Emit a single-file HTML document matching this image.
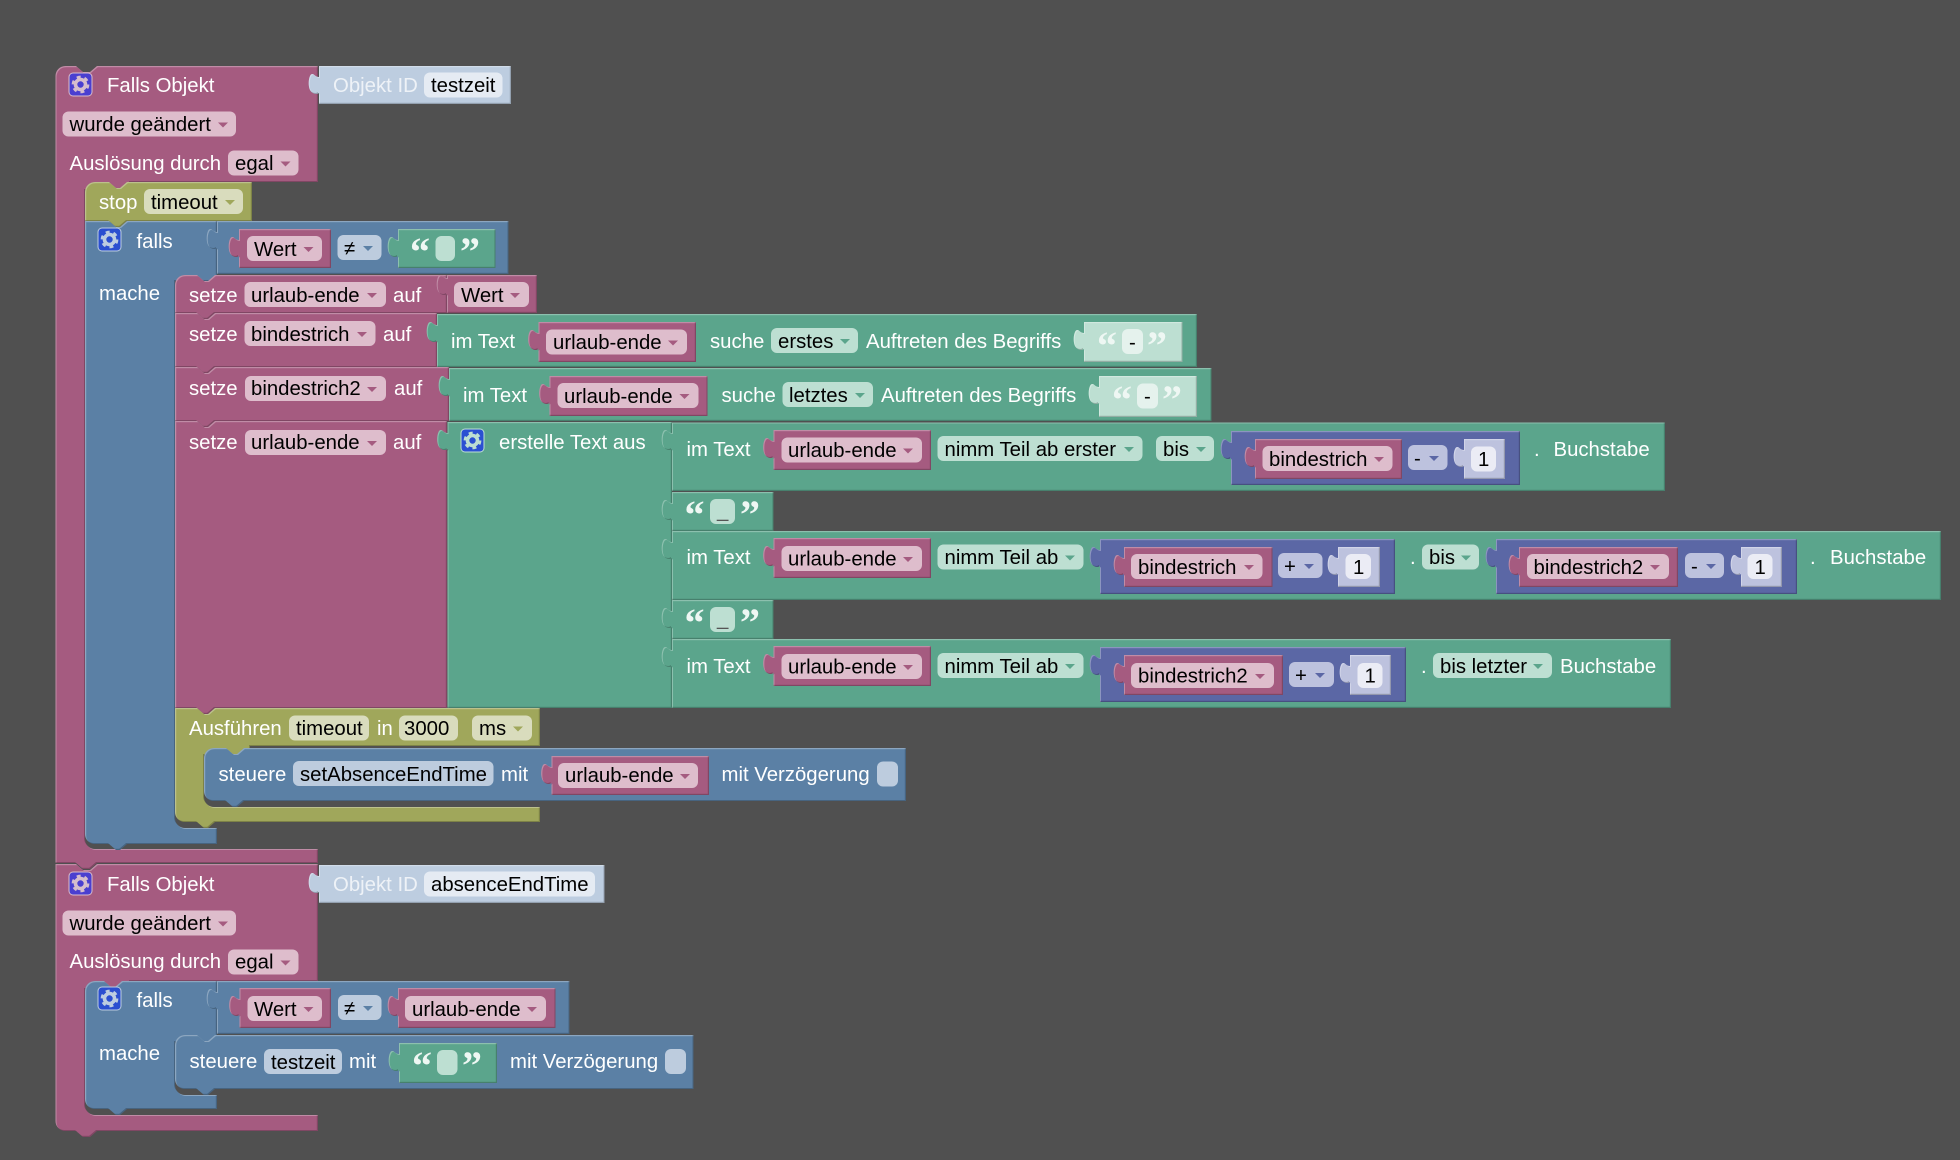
<!DOCTYPE html>
<html><head><meta charset="utf-8"><style>
html,body{margin:0;padding:0;background:#505050;width:1960px;height:1160px;overflow:hidden}
svg{display:block}
text{font-family:"Liberation Sans",sans-serif;font-size:20.35px}
.w{fill:#fff}.k{fill:#000}.pw{fill:#eef2f7}
.q{font-family:"Liberation Serif",serif;font-weight:bold;font-size:40px;fill:#eef7f3}
.m,.g,.b,.o,.i,.p,.pg,.pi{filter:url(#bev)}
.m{fill:#a55b80}.g{fill:#5ba58c}.b{fill:#5b80a5}.o{fill:#a0a75b}.i{fill:#5b67a5}.p{fill:#bdcde0}.pg{fill:#bddfd2}.pi{fill:#bdc2de}
.fm{fill:#debdcc}.fg{fill:#bddfd2}.fb{fill:#bdccde}.fo{fill:#d9dcbd}.fi{fill:#bdc2de}.fp{fill:#e5ebf3}.fn{fill:#ebecf5}.fl{fill:#e5f2ed}
.am{fill:#a55b80}.ag{fill:#5ba58c}.ab{fill:#5b80a5}.ao{fill:#a0a75b}.ai{fill:#5b67a5}
</style></head><body>
<svg xmlns="http://www.w3.org/2000/svg" width="1960" height="1160" viewBox="0 0 1960 1160">
<defs>
<filter id="bev" x="-5%" y="-10%" width="110%" height="120%" color-interpolation-filters="sRGB">
<feOffset in="SourceAlpha" dx="1.2" dy="1.2" result="o1"/>
<feComposite in="SourceAlpha" in2="o1" operator="out" result="e1"/>
<feFlood flood-color="#fff" flood-opacity=".3"/><feComposite in2="e1" operator="in" result="lt"/>
<feOffset in="SourceAlpha" dx="-1.2" dy="-1.2" result="o2"/>
<feComposite in="SourceAlpha" in2="o2" operator="out" result="e2"/>
<feFlood flood-color="#000" flood-opacity=".22"/><feComposite in2="e2" operator="in" result="dk"/>
<feMerge><feMergeNode in="SourceGraphic"/><feMergeNode in="lt"/><feMergeNode in="dk"/></feMerge>
</filter>
<g id="gear"><circle cx="11.5" cy="11.5" r="5" fill="none" stroke-width="3.6"/><circle cx="11.5" cy="11.5" r="7.6" fill="none" stroke-width="2.6" stroke-dasharray="3.97 3.97"/></g>
</defs>

<!-- HAT A -->
<path class="m" d="M55.5,76a10,10 0 0 1 10,-10H76l7,6h7l7,-6H318V182H130V190H85V839a10,10 0 0 0 10,10H318V863H97l-7,6h-7l-7,-6H55.5Z"/>
<path class="p" d="M319,66H511V104H319V93c-2,2 -7,1 -9,-3c-2,-4 -1.5,-11 0,-14c1,-2.5 3,-2.5 5,-.5c1,1 2.5,1.5 4,1.5Z"/>
<rect x="69" y="73" width="23" height="23" rx="4" fill="#4a3fd0" stroke="#d8bccb" stroke-width="1"/><use href="#gear" x="69" y="73" stroke="#d5bdcd"/>
<text class="w" x="107" y="92">Falls Objekt</text>
<text class="pw" x="333" y="92">Objekt ID</text>
<rect class="fp" x="424" y="72.5" width="78.5" height="25" rx="6"/><text class="k" x="431" y="92">testzeit</text>
<rect class="fm" x="62.5" y="111.5" width="173.5" height="25" rx="6"/><text class="k" x="69.5" y="131">wurde geändert</text><path class="am" d="M218,122.5h10l-5,5z"/>
<text class="w" x="69.5" y="170">Auslösung durch</text>
<rect class="fm" x="228" y="150.5" width="70.5" height="25" rx="6"/><text class="k" x="235" y="170">egal</text><path class="am" d="M280.5,161.5h10l-5,5z"/>

<!-- stop -->
<path class="o" d="M85,192a10,10 0 0 1 10,-10H109l7,6h4l7,-6H252V221H127l-7,6h-4l-7,-6H85Z"/>
<text class="w" x="99" y="209">stop</text>
<rect class="fo" x="144" y="189" width="99" height="25" rx="6"/><text class="k" x="151" y="209">timeout</text><path class="ao" d="M225,200h10l-5,5z"/>

<!-- falls C -->
<path class="b" d="M85,221H109l7,6h4l7,-6H217V281H175V818a10,10 0 0 0 10,10H217V844H127l-7,6h-4l-7,-6H95a10,10 0 0 1 -10,-10Z"/>
<rect x="98" y="228" width="23" height="23" rx="4" fill="#2b4fd0" stroke="#bdcde0" stroke-width="1"/><use href="#gear" x="98" y="228" stroke="#bdcde0"/>
<text class="w" x="136.5" y="248">falls</text>
<text class="w" x="99" y="300">mache</text>
<path class="b" d="M217,221H508.5V274H217V248c-2,2 -7,1 -9,-3c-2,-4 -1.5,-11 0,-14c1,-2.5 3,-2.5 5,-.5c1,1 2.5,1.5 4,1.5Z"/>
<path class="m" d="M239,229H331V268H239V256c-2,2 -7,1 -9,-3c-2,-4 -1.5,-11 0,-14c1,-2.5 3,-2.5 5,-.5c1,1 2.5,1.5 4,1.5Z"/>
<rect class="fm" x="247" y="236" width="75" height="25" rx="6"/><text class="k" x="254" y="256">Wert</text><path class="am" d="M303.5,247h10l-5,5z"/>
<rect class="fb" x="337.5" y="235" width="44" height="25" rx="6"/><text class="k" x="344" y="255">≠</text><path class="ab" d="M363,246h10l-5,5z"/>
<path class="g" d="M398,229H495.5V268H398V256c-2,2 -7,1 -9,-3c-2,-4 -1.5,-11 0,-14c1,-2.5 3,-2.5 5,-.5c1,1 2.5,1.5 4,1.5Z"/>
<rect class="fg" x="435.5" y="236" width="19.5" height="25" rx="6"/>
<text class="q" x="410" y="265">“</text><text class="q" x="460" y="265">”</text>

<!-- setze 1 -->
<path class="m" d="M175,285a10,10 0 0 1 10,-10H197l7,6h4l7,-6H447V313H215l-7,6h-4l-7,-6H175Z"/>
<text class="w" x="189" y="302">setze</text>
<rect class="fm" x="244.5" y="282" width="141.5" height="25" rx="6"/><text class="k" x="251" y="302">urlaub-ende</text><path class="am" d="M367,293h10l-5,5z"/>
<text class="w" x="393" y="302">auf</text>
<path class="m" d="M447,275H537V313H447V294c-2,2 -7,1 -9,-3c-2,-4 -1.5,-11 0,-14c1,-2.5 3,-2.5 5,-.5c1,1 2.5,1.5 4,1.5Z"/>
<rect class="fm" x="454" y="282" width="75" height="25" rx="6"/><text class="k" x="461" y="302">Wert</text><path class="am" d="M510,293h10l-5,5z"/>

<!-- setze 2 -->
<path class="m" d="M175,313H197l7,6h4l7,-6H437V367H215l-7,6h-4l-7,-6H175Z"/>
<text class="w" x="189" y="341">setze</text>
<rect class="fm" x="244.5" y="321" width="131" height="25" rx="6"/><text class="k" x="251" y="341">bindestrich</text><path class="am" d="M357,332h10l-5,5z"/>
<text class="w" x="383" y="341">auf</text>
<path class="g" d="M437,314H1197V367H437V341c-2,2 -7,1 -9,-3c-2,-4 -1.5,-11 0,-14c1,-2.5 3,-2.5 5,-.5c1,1 2.5,1.5 4,1.5Z"/>
<text class="w" x="451" y="348">im Text</text>
<path class="m" d="M538.5,322H696V362H538.5V349c-2,2 -7,1 -9,-3c-2,-4 -1.5,-11 0,-14c1,-2.5 3,-2.5 5,-.5c1,1 2.5,1.5 4,1.5Z"/>
<rect class="fm" x="546" y="329.5" width="141" height="25" rx="6"/><text class="k" x="553" y="349">urlaub-ende</text><path class="am" d="M668,340.5h10l-5,5z"/>
<text class="w" x="710" y="348">suche</text>
<rect class="fg" x="771" y="328" width="87" height="25" rx="6"/><text class="k" x="778" y="348">erstes</text><path class="ag" d="M840,339h10l-5,5z"/>
<text class="w" x="866" y="348">Auftreten des Begriffs</text>
<path class="pg" d="M1084,322H1182.5V362H1084V349c-2,2 -7,1 -9,-3c-2,-4 -1.5,-11 0,-14c1,-2.5 3,-2.5 5,-.5c1,1 2.5,1.5 4,1.5Z"/>
<rect class="fl" x="1122" y="329" width="21" height="25" rx="6"/><text class="k" x="1129" y="349">-</text>
<text class="q" x="1097" y="359">“</text><text class="q" x="1147" y="359">”</text>

<!-- setze 3 -->
<path class="m" d="M175,367H197l7,6h4l7,-6H449V421H215l-7,6h-4l-7,-6H175Z"/>
<text class="w" x="189" y="395">setze</text>
<rect class="fm" x="245" y="376" width="141" height="25" rx="6"/><text class="k" x="251" y="395">bindestrich2</text><path class="am" d="M367,387h10l-5,5z"/>
<text class="w" x="394" y="395">auf</text>
<path class="g" d="M449,368H1211.5V421H449V395c-2,2 -7,1 -9,-3c-2,-4 -1.5,-11 0,-14c1,-2.5 3,-2.5 5,-.5c1,1 2.5,1.5 4,1.5Z"/>
<text class="w" x="463" y="402">im Text</text>
<path class="m" d="M549.5,376H707.5V416H549.5V403c-2,2 -7,1 -9,-3c-2,-4 -1.5,-11 0,-14c1,-2.5 3,-2.5 5,-.5c1,1 2.5,1.5 4,1.5Z"/>
<rect class="fm" x="557.5" y="383" width="141" height="25" rx="6"/><text class="k" x="564" y="403">urlaub-ende</text><path class="am" d="M679.5,394h10l-5,5z"/>
<text class="w" x="721.5" y="402">suche</text>
<rect class="fg" x="782.5" y="382" width="90.5" height="25" rx="6"/><text class="k" x="789" y="402">letztes</text><path class="ag" d="M855,393h10l-5,5z"/>
<text class="w" x="881" y="402">Auftreten des Begriffs</text>
<path class="pg" d="M1099,376H1197V417H1099V403c-2,2 -7,1 -9,-3c-2,-4 -1.5,-11 0,-14c1,-2.5 3,-2.5 5,-.5c1,1 2.5,1.5 4,1.5Z"/>
<rect class="fl" x="1137" y="383.5" width="21" height="25" rx="6"/><text class="k" x="1144" y="403">-</text>
<text class="q" x="1112" y="413">“</text><text class="q" x="1162" y="413">”</text>

<!-- setze 4 -->
<path class="m" d="M175,421H197l7,6h4l7,-6H447V708H215l-7,6h-4l-7,-6H175Z"/>
<text class="w" x="189" y="449">setze</text>
<rect class="fm" x="245" y="430" width="141" height="25" rx="6"/><text class="k" x="251" y="449">urlaub-ende</text><path class="am" d="M367,441h10l-5,5z"/>
<text class="w" x="393" y="449">auf</text>
<path class="g" d="M447.5,422H672V708H447.5V449c-2,2 -7,1 -9,-3c-2,-4 -1.5,-11 0,-14c1,-2.5 3,-2.5 5,-.5c1,1 2.5,1.5 4,1.5Z"/>
<rect x="461" y="429" width="23" height="23" rx="4" fill="#2b50d2" stroke="#bddfd2" stroke-width="1"/><use href="#gear" x="461" y="429" stroke="#bddfd2"/>
<text class="w" x="499" y="449">erstelle Text aus</text>

<!-- row a -->
<path class="g" d="M672,422.5H1665V491H672V449c-2,2 -7,1 -9,-3c-2,-4 -1.5,-11 0,-14c1,-2.5 3,-2.5 5,-.5c1,1 2.5,1.5 4,1.5Z"/>
<text class="w" x="686.5" y="456">im Text</text>
<path class="m" d="M773.5,430H931V470H773.5V457c-2,2 -7,1 -9,-3c-2,-4 -1.5,-11 0,-14c1,-2.5 3,-2.5 5,-.5c1,1 2.5,1.5 4,1.5Z"/>
<rect class="fm" x="781.5" y="437.5" width="140.5" height="25" rx="6"/><text class="k" x="788" y="457">urlaub-ende</text><path class="am" d="M903,448.5h10l-5,5z"/>
<rect class="fg" x="937.5" y="436" width="205" height="25" rx="6"/><text class="k" x="944.5" y="456">nimm Teil ab erster</text><path class="ag" d="M1124,447h10l-5,5z"/>
<rect class="fg" x="1156" y="436" width="58" height="25" rx="6"/><text class="k" x="1163" y="456">bis</text><path class="ag" d="M1196,447h10l-5,5z"/>
<path class="i" d="M1231,431H1520V485H1231V458c-2,2 -7,1 -9,-3c-2,-4 -1.5,-11 0,-14c1,-2.5 3,-2.5 5,-.5c1,1 2.5,1.5 4,1.5Z"/>
<path class="m" d="M1255,439H1402V479H1255V466c-2,2 -7,1 -9,-3c-2,-4 -1.5,-11 0,-14c1,-2.5 3,-2.5 5,-.5c1,1 2.5,1.5 4,1.5Z"/>
<rect class="fm" x="1262.5" y="446" width="130" height="25" rx="6"/><text class="k" x="1269" y="466">bindestrich</text><path class="am" d="M1374,457h10l-5,5z"/>
<rect class="fi" x="1408" y="445" width="39.5" height="25" rx="6"/><text class="k" x="1414" y="465">-</text><path class="ai" d="M1429,456h10l-5,5z"/>
<path class="pi" d="M1464,439H1505V479H1464V466c-2,2 -7,1 -9,-3c-2,-4 -1.5,-11 0,-14c1,-2.5 3,-2.5 5,-.5c1,1 2.5,1.5 4,1.5Z"/>
<rect class="fn" x="1471" y="446.5" width="25" height="25" rx="6"/><text class="k" x="1478" y="466">1</text>
<text class="w" x="1534" y="456">.</text>
<text class="w" x="1553.5" y="456">Buchstabe</text>

<!-- row b -->
<path class="g" d="M672,492H773.5V531H672V519c-2,2 -7,1 -9,-3c-2,-4 -1.5,-11 0,-14c1,-2.5 3,-2.5 5,-.5c1,1 2.5,1.5 4,1.5Z"/>
<rect class="fg" x="710" y="499" width="25" height="25" rx="6"/><text class="k" x="717" y="517" style="fill:#555">_</text>
<text class="q" x="684.5" y="528">“</text><text class="q" x="740" y="528">”</text>

<!-- row c -->
<path class="g" d="M672,531H1941V600H672V558c-2,2 -7,1 -9,-3c-2,-4 -1.5,-11 0,-14c1,-2.5 3,-2.5 5,-.5c1,1 2.5,1.5 4,1.5Z"/>
<text class="w" x="686.5" y="564">im Text</text>
<path class="m" d="M773.5,538H931V578H773.5V565c-2,2 -7,1 -9,-3c-2,-4 -1.5,-11 0,-14c1,-2.5 3,-2.5 5,-.5c1,1 2.5,1.5 4,1.5Z"/>
<rect class="fm" x="781.5" y="546" width="140.5" height="25" rx="6"/><text class="k" x="788" y="565.5">urlaub-ende</text><path class="am" d="M903,557h10l-5,5z"/>
<rect class="fg" x="937.5" y="544.5" width="146" height="25" rx="6"/><text class="k" x="944.5" y="564">nimm Teil ab</text><path class="ag" d="M1065,555.5h10l-5,5z"/>
<path class="i" d="M1100,539H1395V594H1100V566c-2,2 -7,1 -9,-3c-2,-4 -1.5,-11 0,-14c1,-2.5 3,-2.5 5,-.5c1,1 2.5,1.5 4,1.5Z"/>
<path class="m" d="M1124,547H1272.5V587H1124V574c-2,2 -7,1 -9,-3c-2,-4 -1.5,-11 0,-14c1,-2.5 3,-2.5 5,-.5c1,1 2.5,1.5 4,1.5Z"/>
<rect class="fm" x="1131" y="554" width="131.5" height="25" rx="6"/><text class="k" x="1138" y="574">bindestrich</text><path class="am" d="M1244,565h10l-5,5z"/>
<rect class="fi" x="1278" y="553" width="44.5" height="25" rx="6"/><text class="k" x="1284" y="573">+</text><path class="ai" d="M1304,564h10l-5,5z"/>
<path class="pi" d="M1338,547H1380V587H1338V574c-2,2 -7,1 -9,-3c-2,-4 -1.5,-11 0,-14c1,-2.5 3,-2.5 5,-.5c1,1 2.5,1.5 4,1.5Z"/>
<rect class="fn" x="1345.5" y="554" width="25.5" height="25" rx="6"/><text class="k" x="1353" y="574">1</text>
<text class="w" x="1410" y="564">.</text>
<rect class="fg" x="1422" y="544.5" width="57" height="25" rx="6"/><text class="k" x="1429" y="564">bis</text><path class="ag" d="M1461,555.5h10l-5,5z"/>
<path class="i" d="M1496,539H1797V594H1496V566c-2,2 -7,1 -9,-3c-2,-4 -1.5,-11 0,-14c1,-2.5 3,-2.5 5,-.5c1,1 2.5,1.5 4,1.5Z"/>
<path class="m" d="M1519,547H1678V587H1519V574c-2,2 -7,1 -9,-3c-2,-4 -1.5,-11 0,-14c1,-2.5 3,-2.5 5,-.5c1,1 2.5,1.5 4,1.5Z"/>
<rect class="fm" x="1527" y="554" width="142" height="25" rx="6"/><text class="k" x="1533.5" y="574">bindestrich2</text><path class="am" d="M1650,565h10l-5,5z"/>
<rect class="fi" x="1685" y="553" width="39" height="25" rx="6"/><text class="k" x="1691" y="573">-</text><path class="ai" d="M1706,564h10l-5,5z"/>
<path class="pi" d="M1741,547H1782V587H1741V574c-2,2 -7,1 -9,-3c-2,-4 -1.5,-11 0,-14c1,-2.5 3,-2.5 5,-.5c1,1 2.5,1.5 4,1.5Z"/>
<rect class="fn" x="1747.5" y="554" width="25" height="25" rx="6"/><text class="k" x="1754.5" y="574">1</text>
<text class="w" x="1810" y="564">.</text>
<text class="w" x="1830" y="564">Buchstabe</text>

<!-- row d -->
<path class="g" d="M672,600H773.5V639H672V627c-2,2 -7,1 -9,-3c-2,-4 -1.5,-11 0,-14c1,-2.5 3,-2.5 5,-.5c1,1 2.5,1.5 4,1.5Z"/>
<rect class="fg" x="710" y="607" width="25" height="25" rx="6"/><text class="k" x="717" y="625" style="fill:#555">_</text>
<text class="q" x="684.5" y="636">“</text><text class="q" x="740" y="636">”</text>

<!-- row e -->
<path class="g" d="M672,639H1671V708H672V666c-2,2 -7,1 -9,-3c-2,-4 -1.5,-11 0,-14c1,-2.5 3,-2.5 5,-.5c1,1 2.5,1.5 4,1.5Z"/>
<text class="w" x="686.5" y="673">im Text</text>
<path class="m" d="M773.5,646H931V686H773.5V673c-2,2 -7,1 -9,-3c-2,-4 -1.5,-11 0,-14c1,-2.5 3,-2.5 5,-.5c1,1 2.5,1.5 4,1.5Z"/>
<rect class="fm" x="781.5" y="654" width="140.5" height="25" rx="6"/><text class="k" x="788" y="673.5">urlaub-ende</text><path class="am" d="M903,665h10l-5,5z"/>
<rect class="fg" x="937.5" y="653" width="146" height="25" rx="6"/><text class="k" x="944.5" y="673">nimm Teil ab</text><path class="ag" d="M1065,664h10l-5,5z"/>
<path class="i" d="M1100,647H1406V702H1100V674c-2,2 -7,1 -9,-3c-2,-4 -1.5,-11 0,-14c1,-2.5 3,-2.5 5,-.5c1,1 2.5,1.5 4,1.5Z"/>
<path class="m" d="M1124,655H1283V695H1124V682c-2,2 -7,1 -9,-3c-2,-4 -1.5,-11 0,-14c1,-2.5 3,-2.5 5,-.5c1,1 2.5,1.5 4,1.5Z"/>
<rect class="fm" x="1131" y="663" width="143" height="25" rx="6"/><text class="k" x="1138" y="682.5">bindestrich2</text><path class="am" d="M1255,674h10l-5,5z"/>
<rect class="fi" x="1289" y="662" width="45" height="25" rx="6"/><text class="k" x="1295" y="682">+</text><path class="ai" d="M1315,673h10l-5,5z"/>
<path class="pi" d="M1350,655H1391V695H1350V682c-2,2 -7,1 -9,-3c-2,-4 -1.5,-11 0,-14c1,-2.5 3,-2.5 5,-.5c1,1 2.5,1.5 4,1.5Z"/>
<rect class="fn" x="1357.5" y="663" width="25" height="25" rx="6"/><text class="k" x="1364.5" y="682.5">1</text>
<text class="w" x="1421" y="673">.</text>
<rect class="fg" x="1433" y="653" width="119" height="25" rx="6"/><text class="k" x="1440" y="673">bis letzter</text><path class="ag" d="M1533,664h10l-5,5z"/>
<text class="w" x="1560" y="673">Buchstabe</text>

<!-- Ausfuehren -->
<path class="o" d="M175,708H197l7,6h4l7,-6H540V746H250V755H204V797a10,10 0 0 0 10,10H540V822H215l-7,6h-4l-7,-6H185a10,10 0 0 1 -10,-10Z"/>
<text class="w" x="189" y="735">Ausführen</text>
<rect class="fo" x="289" y="715.5" width="80" height="25" rx="6"/><text class="k" x="296" y="735">timeout</text>
<text class="w" x="377" y="735">in</text>
<rect class="fo" x="399" y="715.5" width="59" height="25" rx="6"/><text class="k" x="404" y="735">3000</text>
<rect class="fo" x="472" y="715.5" width="60" height="25" rx="6"/><text class="k" x="479" y="735">ms</text><path class="ao" d="M513,726.5h10l-5,5z"/>

<!-- steuere -->
<path class="b" d="M204,758a10,10 0 0 1 10,-10H226l7,6h4l7,-6H906V801H244l-7,6h-4l-7,-6H214a10,10 0 0 1 -10,-10Z"/>
<text class="w" x="218.5" y="781">steuere</text>
<rect class="fb" x="293" y="761" width="200.5" height="25" rx="6"/><text class="k" x="300" y="781">setAbsenceEndTime</text>
<text class="w" x="501" y="781">mit</text>
<path class="m" d="M551.5,756H709V795H551.5V783c-2,2 -7,1 -9,-3c-2,-4 -1.5,-11 0,-14c1,-2.5 3,-2.5 5,-.5c1,1 2.5,1.5 4,1.5Z"/>
<rect class="fm" x="558" y="763" width="140" height="25" rx="6"/><text class="k" x="565" y="782">urlaub-ende</text><path class="am" d="M680,774h10l-5,5z"/>
<text class="w" x="721.5" y="781">mit Verzögerung</text>
<rect class="fb" x="877" y="761.5" width="21" height="25" rx="6"/>

<!-- HAT B -->
<path class="m" d="M55.5,864H76l7,6h7l7,-6H318V981H130V989H85V1105a10,10 0 0 0 10,10H318V1131H97l-7,6h-7l-7,-6H65.5a10,10 0 0 1 -10,-10Z"/>
<path class="p" d="M319,865H604.5V903H319V892c-2,2 -7,1 -9,-3c-2,-4 -1.5,-11 0,-14c1,-2.5 3,-2.5 5,-.5c1,1 2.5,1.5 4,1.5Z"/>
<rect x="69" y="872" width="23" height="23" rx="4" fill="#4a3fd0" stroke="#d8bccb" stroke-width="1"/><use href="#gear" x="69" y="872" stroke="#d5bdcd"/>
<text class="w" x="107" y="891">Falls Objekt</text>
<text class="pw" x="333" y="891">Objekt ID</text>
<rect class="fp" x="424" y="871.5" width="171" height="25" rx="6"/><text class="k" x="431" y="891">absenceEndTime</text>
<rect class="fm" x="62.5" y="910.5" width="173.5" height="25" rx="6"/><text class="k" x="69.5" y="930">wurde geändert</text><path class="am" d="M218,921.5h10l-5,5z"/>
<text class="w" x="69.5" y="968">Auslösung durch</text>
<rect class="fm" x="228" y="949.5" width="70.5" height="25" rx="6"/><text class="k" x="235" y="968.5">egal</text><path class="am" d="M280.5,960.5h10l-5,5z"/>

<!-- falls 2 -->
<path class="b" d="M85,991a10,10 0 0 1 10,-10H104l7,6h4l7,-6H217V1042H175V1085a10,10 0 0 0 10,10H217V1109H127l-7,6h-4l-7,-6H95a10,10 0 0 1 -10,-10Z"/>
<rect x="98" y="987" width="23" height="23" rx="4" fill="#2b4fd0" stroke="#bdcde0" stroke-width="1"/><use href="#gear" x="98" y="987" stroke="#bdcde0"/>
<text class="w" x="136.5" y="1007">falls</text>
<text class="w" x="99" y="1060">mache</text>
<path class="b" d="M217,981H569.5V1034H217V1008c-2,2 -7,1 -9,-3c-2,-4 -1.5,-11 0,-14c1,-2.5 3,-2.5 5,-.5c1,1 2.5,1.5 4,1.5Z"/>
<path class="m" d="M239.5,988H331V1028H239.5V1015c-2,2 -7,1 -9,-3c-2,-4 -1.5,-11 0,-14c1,-2.5 3,-2.5 5,-.5c1,1 2.5,1.5 4,1.5Z"/>
<rect class="fm" x="247.5" y="996" width="74.5" height="25" rx="6"/><text class="k" x="254" y="1016">Wert</text><path class="am" d="M303.5,1007h10l-5,5z"/>
<rect class="fb" x="338" y="995" width="43.5" height="25" rx="6"/><text class="k" x="344" y="1015">≠</text><path class="ab" d="M363,1006h10l-5,5z"/>
<path class="m" d="M398,988H555.5V1028H398V1015c-2,2 -7,1 -9,-3c-2,-4 -1.5,-11 0,-14c1,-2.5 3,-2.5 5,-.5c1,1 2.5,1.5 4,1.5Z"/>
<rect class="fm" x="405" y="996" width="141" height="25" rx="6"/><text class="k" x="412" y="1016">urlaub-ende</text><path class="am" d="M527,1007h10l-5,5z"/>

<!-- steuere 2 -->
<path class="b" d="M175,1045a10,10 0 0 1 10,-10H197l7,6h4l7,-6H693.5V1089H215l-7,6h-4l-7,-6H185a10,10 0 0 1 -10,-10Z"/>
<text class="w" x="189.5" y="1068">steuere</text>
<rect class="fb" x="264" y="1049" width="78" height="25" rx="6"/><text class="k" x="271" y="1069">testzeit</text>
<text class="w" x="349" y="1068">mit</text>
<path class="g" d="M399,1043H497V1083H399V1070c-2,2 -7,1 -9,-3c-2,-4 -1.5,-11 0,-14c1,-2.5 3,-2.5 5,-.5c1,1 2.5,1.5 4,1.5Z"/>
<rect class="fg" x="437" y="1050" width="20.5" height="25" rx="6"/>
<text class="q" x="412" y="1079">“</text><text class="q" x="462" y="1079">”</text>
<text class="w" x="510" y="1068">mit Verzögerung</text>
<rect class="fb" x="665" y="1049" width="21" height="25" rx="6"/>
</svg>
</body></html>
